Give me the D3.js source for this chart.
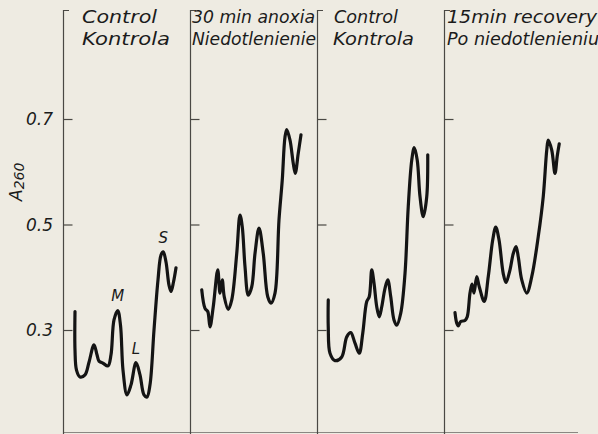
<!DOCTYPE html>
<html>
<head>
<meta charset="utf-8">
<script src="https://cdn.jsdelivr.net/npm/d3@7"></script>
<style>
  html, body { margin: 0; padding: 0; background: #eeebe2; }
  svg { display: block; }
  text { font-family: "DejaVu Sans", sans-serif; font-style: italic; fill: #1b1b1b; }
</style>
</head>
<body>
<svg id="chart" width="598" height="434"></svg>
<script>
// ---------------- DATA ----------------
const titleLine1 = ["Control", "30 min anoxia", "Control", "15min recovery"];
const titleLine2 = ["Kontrola", "Niedotlenienie", "Kontrola", "Po niedotlenieniu"];
const yTicks = [0.3, 0.5, 0.7];
const yLabel = "A";
const yLabelSub = "260";

// elution position (arbitrary units, 0-100 per panel) and A260
const control1X = [9.6,9.6,10.8,13.6,17.6,20.8,24.8,27.2,28.8,32,36,38.4,40.8,43.8,46,48,51.2,54.4,58.4,61.6,64.8,67.2,69.6,72.8,76,78.4,80.2,82.4,84.8,86.4,88.4,90.4];
const control1A = [0.335,0.262,0.224,0.211,0.215,0.239,0.272,0.253,0.241,0.237,0.232,0.253,0.319,0.337,0.309,0.224,0.177,0.196,0.238,0.215,0.177,0.173,0.196,0.300,0.395,0.442,0.448,0.429,0.385,0.373,0.391,0.418];

const anoxiaX = [9.4,12,14.2,16,18.6,22.2,24,25.8,27.4,30.6,33.4,37.4,40,41.8,44,46.6,49.4,52,55.2,58.6,62.2,64.8,68,71.2,73.8,76,77.4,80,82.6,84.2,86.6,88.8];
const anoxiaA = [0.376,0.341,0.335,0.306,0.344,0.414,0.370,0.395,0.363,0.339,0.357,0.445,0.518,0.496,0.420,0.366,0.382,0.445,0.493,0.445,0.363,0.351,0.370,0.509,0.584,0.666,0.680,0.660,0.616,0.597,0.635,0.670];

const control2X = [9,9,10.4,14.4,19.8,23.8,27,30.4,33.8,36.6,39.8,41.8,43.8,45.6,47.8,49.8,51.8,54.4,56.6,59,61.6,63.8,67,70.4,73,75.8,77.8,80.2,82.4,85,87.8,88.6];
const control2A = [0.357,0.306,0.256,0.242,0.249,0.287,0.295,0.275,0.256,0.294,0.354,0.363,0.414,0.389,0.344,0.325,0.344,0.379,0.395,0.363,0.319,0.309,0.332,0.407,0.534,0.622,0.646,0.622,0.553,0.515,0.553,0.632];

const recoveryX = [8.8,10.2,11.4,13.4,16.8,18.6,20.8,22.4,24,26.2,28.2,32.2,35.4,39,41.4,44,47.4,49.6,52.8,55.4,57.6,59.4,62.2,66.2,70.2,75.4,79.4,82.2,83.4,86.2,88.8,90.6,92.2];
const recoveryA = [0.333,0.313,0.308,0.316,0.318,0.325,0.370,0.387,0.370,0.401,0.382,0.354,0.401,0.471,0.495,0.471,0.407,0.390,0.414,0.445,0.458,0.439,0.395,0.370,0.401,0.477,0.553,0.641,0.660,0.641,0.597,0.630,0.653];

// peak annotations (panel 1): letter, x, A260
const peakNames = ["M", "L", "S"];
const peakX = [43.8, 58.4, 80.2];
const peakA = [0.337, 0.238, 0.448];

// ---------------- LAYOUT ----------------
const W = 598, H = 434;
const seriesX = [control1X, anoxiaX, control2X, recoveryX];
const seriesA = [control1A, anoxiaA, control2A, recoveryA];
const titleOffset = [19, 2, 17, 3];
const titleW1 = [75, 123, 64, 150];
const titleW2 = [88, 124, 81, 152];

const svg = d3.select("#chart");
const panel = d3.scaleLinear().domain([0, 3]).range([63, 444]);
const y = d3.scaleLinear().domain([0.3, 0.7]).range([330, 119]);

// faint baseline at the bottom
svg.append("line")
  .attr("x1", 63).attr("x2", 578).attr("y1", 432.5).attr("y2", 432.5)
  .attr("stroke", "#8a8782").attr("stroke-width", 1);

seriesX.forEach((xs, i) => {
  const x0 = panel(i);
  const x = d3.scaleLinear().domain([0, 100]).range([x0, x0 + 125]);
  const g = svg.append("g");

  // panel axis with top hook
  g.append("path")
    .attr("d", `M${x0 + 6},10.5 H${x0 + 0.5} V434`)
    .attr("fill", "none").attr("stroke", "#4a4844").attr("stroke-width", 1.2);

  // ticks
  const ax = g.append("g").attr("transform", `translate(${x0 + 0.5},0)`)
    .call(d3.axisRight(y).tickValues(yTicks).tickSize(9).tickFormat(""));
  ax.select(".domain").remove();
  ax.selectAll(".tick line").attr("stroke", "#4a4844").attr("stroke-width", 1.2);

  // titles
  g.append("text").attr("x", x0 + titleOffset[i]).attr("y", 23)
    .attr("font-size", 17).attr("textLength", titleW1[i]).attr("lengthAdjust", "spacingAndGlyphs")
    .text(titleLine1[i]);
  g.append("text").attr("x", x0 + titleOffset[i] - (i === 2 ? 1 : 0)).attr("y", 45)
    .attr("font-size", 17).attr("textLength", titleW2[i]).attr("lengthAdjust", "spacingAndGlyphs")
    .text(titleLine2[i]);

  // curve
  const pts = xs.map((d, k) => [d, seriesA[i][k]]);
  const line = d3.line().x(d => x(d[0])).y(d => y(d[1])).curve(d3.curveCatmullRom.alpha(0.5));
  g.append("path").attr("d", line(pts))
    .attr("fill", "none").attr("stroke", "#141414").attr("stroke-width", 3.2)
    .attr("stroke-linejoin", "round").attr("stroke-linecap", "round");

  if (i === 0) {
    // y tick labels
    g.selectAll(".ylab").data(yTicks).enter().append("text")
      .attr("x", 53).attr("y", d => y(d) + 6)
      .attr("text-anchor", "end").attr("font-size", 17)
      .text(d3.format(".1f"));
    // axis title
    const t = g.append("text")
      .attr("transform", "translate(22,201) rotate(-90)")
      .attr("font-size", 17);
    t.append("tspan").text(yLabel);
    t.append("tspan").attr("font-size", 14).attr("dy", 2).text(yLabelSub);
    // peak letters
    g.selectAll(".peak").data(peakNames).enter().append("text")
      .attr("x", (d, k) => x(peakX[k]))
      .attr("y", (d, k) => y(peakA[k]) - 9)
      .attr("text-anchor", "middle").attr("font-size", 15)
      .text(d => d);
  }
});
</script>
</body>
</html>
